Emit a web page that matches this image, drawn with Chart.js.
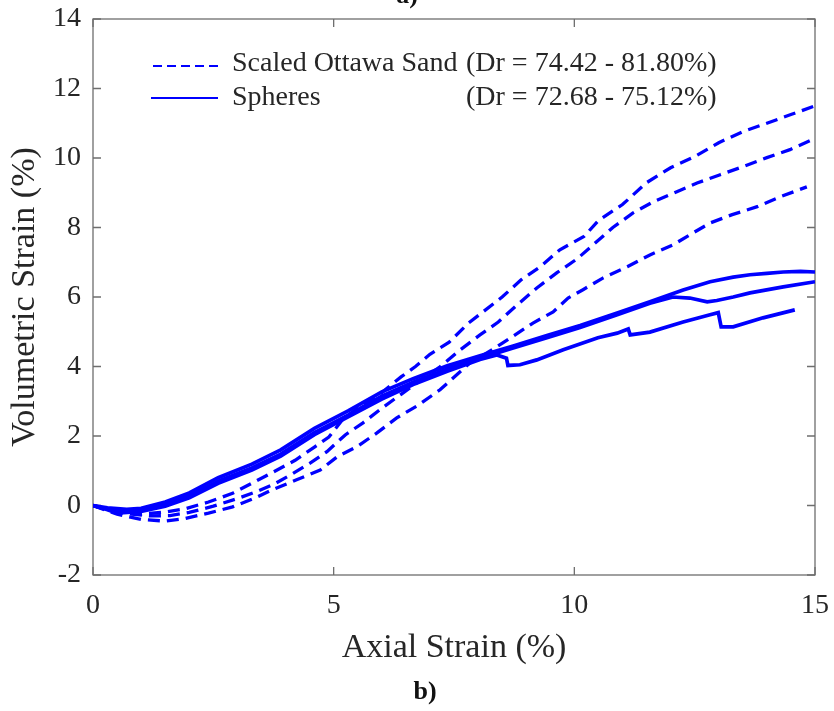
<!DOCTYPE html>
<html>
<head>
<meta charset="utf-8">
<script src="https://cdn.jsdelivr.net/npm/chart.js@4.4.1/dist/chart.umd.min.js"></script>
<style>
  html, body { margin: 0; padding: 0; background: #ffffff; }
  canvas { display: block; }
</style>
</head>
<body>
<canvas id="c" width="834" height="711"></canvas>
<script>
// ---------- data ----------
const sandA_x = [0, 0.3, 0.6, 1.0, 1.5, 1.9, 2.4, 2.9, 3.3, 3.7, 4.2, 4.6, 4.9, 5.2, 5.6, 6.0, 6.4, 6.7, 7.0, 7.4, 7.8, 8.1, 8.5, 8.9, 9.3, 9.7, 10.2, 10.5, 11.0, 11.5, 12.0, 12.5, 13.0, 13.5, 14.0, 14.5, 15.0];
const sandA_y = [0, -0.12, -0.2, -0.25, -0.19, -0.1, 0.1, 0.35, 0.64, 0.93, 1.3, 1.68, 1.97, 2.5, 2.9, 3.25, 3.7, 4.0, 4.35, 4.7, 5.25, 5.57, 6.0, 6.5, 6.88, 7.36, 7.74, 8.2, 8.66, 9.29, 9.72, 10.04, 10.44, 10.76, 11.0, 11.25, 11.5];

const sandB_x = [0, 0.4, 0.8, 1.2, 1.6, 2.0, 2.5, 3.0, 3.4, 3.74, 4.09, 4.51, 4.86, 5.24, 5.61, 6.0, 6.4, 6.8, 7.21, 7.63, 8.04, 8.42, 8.81, 9.22, 9.64, 10.06, 10.39, 10.8, 11.22, 11.64, 12.13, 12.55, 13.03, 13.5, 14.0, 14.48, 14.95];
const sandB_y = [0, -0.15, -0.25, -0.3, -0.29, -0.2, -0.02, 0.2, 0.4, 0.6, 0.87, 1.22, 1.55, 2.03, 2.38, 2.8, 3.2, 3.6, 3.99, 4.48, 4.91, 5.28, 5.77, 6.26, 6.7, 7.1, 7.5, 8.0, 8.42, 8.74, 9.03, 9.28, 9.52, 9.75, 10.01, 10.24, 10.53];

const sandC_x = [0, 0.5, 1.0, 1.5, 1.9, 2.4, 2.9, 3.37, 3.72, 4.23, 4.72, 5.07, 5.48, 5.9, 6.31, 6.76, 7.21, 7.83, 8.35, 8.77, 9.14, 9.56, 9.87, 10.18, 10.6, 11.1, 11.57, 12.05, 12.4, 12.82, 13.28, 13.8, 14.27, 14.83];
const sandC_y = [0, -0.25, -0.4, -0.45, -0.38, -0.22, -0.04, 0.22, 0.45, 0.74, 1.02, 1.4, 1.69, 2.09, 2.52, 2.89, 3.33, 4.1, 4.53, 4.91, 5.25, 5.57, 5.97, 6.21, 6.55, 6.87, 7.21, 7.5, 7.79, 8.13, 8.37, 8.6, 8.88, 9.17];

const sph1_x = [0, 0.3, 0.7, 1.0, 1.5, 2.0, 2.6, 3.3, 3.9, 4.6, 5.3, 6.0, 6.65, 7.36, 8.04, 8.73, 9.43, 10.12, 10.89, 11.57, 12.26, 12.82, 13.3, 13.65, 14.0, 14.34, 14.7, 15.0];
const sph1_y = [0, -0.07, -0.11, -0.08, 0.1, 0.36, 0.8, 1.19, 1.6, 2.22, 2.72, 3.27, 3.65, 4.02, 4.31, 4.59, 4.89, 5.18, 5.54, 5.86, 6.2, 6.44, 6.57, 6.64, 6.68, 6.72, 6.74, 6.72];

const sph2_x = [0, 0.3, 0.7, 1.0, 1.5, 2.0, 2.6, 3.3, 3.9, 4.6, 5.3, 6.0, 6.65, 7.36, 8.04, 8.73, 9.43, 10.12, 10.89, 11.57, 12.05, 12.4, 12.76, 12.96, 13.3, 13.65, 14.34, 15.0];
const sph2_y = [0, -0.1, -0.16, -0.14, 0.02, 0.27, 0.7, 1.08, 1.48, 2.1, 2.6, 3.15, 3.55, 3.93, 4.24, 4.53, 4.83, 5.12, 5.49, 5.82, 6.0, 5.97, 5.86, 5.9, 6.0, 6.12, 6.29, 6.44];

const sph3_x = [0, 0.3, 0.5, 1.0, 1.5, 2.0, 2.6, 3.3, 3.9, 4.6, 5.3, 6.0, 6.65, 7.36, 8.04, 8.39, 8.59, 8.62, 8.87, 9.22, 9.77, 10.49, 10.89, 11.12, 11.16, 11.57, 12.26, 12.82, 12.99, 13.05, 13.3, 13.92, 14.58];
const sph3_y = [0, -0.12, -0.22, -0.17, -0.02, 0.22, 0.64, 1.02, 1.42, 2.04, 2.55, 3.06, 3.48, 3.86, 4.2, 4.33, 4.24, 4.03, 4.05, 4.19, 4.48, 4.83, 4.96, 5.08, 4.91, 4.99, 5.28, 5.49, 5.55, 5.14, 5.14, 5.4, 5.63];

const xTicks = [0, 5, 10, 15];
const yTicks = [-2, 0, 2, 4, 6, 8, 10, 12, 14];
const xTitle = 'Axial Strain (%)';
const yTitle = 'Volumetric Strain (%)';
const legendNames = ['Scaled Ottawa Sand', 'Spheres'];
const legendDr = ['(Dr = 74.42 - 81.80%)', '(Dr = 72.68 - 75.12%)'];
const panelLabel = 'b)';
const topLabel = 'a)';

// ---------- helpers ----------
function pts(xs, ys) { return xs.map((x, i) => ({ x: x, y: ys[i] })); }
const BLUE = '#0000ff';
const TXT = '#262626';
const FONT = "'Liberation Serif', 'Times New Roman', serif";

function dashed(xs, ys) {
  return { data: pts(xs, ys), borderColor: BLUE, borderWidth: 3.3, borderDash: [12, 7],
           showLine: true, pointRadius: 0, tension: 0, fill: false };
}
function solid(xs, ys) {
  return { data: pts(xs, ys), borderColor: BLUE, borderWidth: 3.7,
           showLine: true, pointRadius: 0, tension: 0, fill: false };
}

const framePlugin = {
  id: 'frame',
  beforeDatasetsDraw(chart) {
    const { ctx, chartArea: { left, right, top, bottom }, scales: { x, y } } = chart;
    ctx.save();
    ctx.strokeStyle = '#6e6e6e';
    ctx.lineWidth = 1.3;
    ctx.strokeRect(left, top, right - left, bottom - top);
    const tl = 8;
    ctx.beginPath();
    xTicks.forEach(v => {
      const px = x.getPixelForValue(v);
      ctx.moveTo(px, bottom); ctx.lineTo(px, bottom - tl);
      ctx.moveTo(px, top); ctx.lineTo(px, top + tl);
    });
    yTicks.forEach(v => {
      const py = y.getPixelForValue(v);
      ctx.moveTo(left, py); ctx.lineTo(left + tl, py);
      ctx.moveTo(right, py); ctx.lineTo(right - tl, py);
    });
    ctx.stroke();
    ctx.restore();
  },
  afterDraw(chart) {
    const { ctx } = chart;
    ctx.save();
    // legend samples
    ctx.strokeStyle = BLUE;
    ctx.lineWidth = 2.2;
    ctx.setLineDash([9, 5]);
    ctx.beginPath(); ctx.moveTo(153, 66); ctx.lineTo(223, 66); ctx.stroke();
    ctx.setLineDash([]);
    ctx.beginPath(); ctx.moveTo(151, 98); ctx.lineTo(218, 98); ctx.stroke();
    // legend text
    ctx.fillStyle = TXT;
    ctx.font = "28px " + FONT;
    ctx.textBaseline = 'alphabetic';
    ctx.textAlign = 'left';
    ctx.fillText(legendNames[0], 232, 71);
    ctx.fillText(legendNames[1], 232, 105);
    ctx.fillText(legendDr[0], 466, 71);
    ctx.fillText(legendDr[1], 466, 105);
    // panel labels
    ctx.font = "bold 26px " + FONT;
    ctx.textAlign = 'center';
    ctx.fillStyle = '#111';
    ctx.fillText(panelLabel, 425, 699);
    ctx.fillText(topLabel, 407, 3);
    ctx.restore();
  }
};

new Chart(document.getElementById('c'), {
  type: 'scatter',
  data: {
    datasets: [
      dashed(sandA_x, sandA_y),
      dashed(sandB_x, sandB_y),
      dashed(sandC_x, sandC_y),
      solid(sph1_x, sph1_y),
      solid(sph2_x, sph2_y),
      solid(sph3_x, sph3_y)
    ]
  },
  options: {
    responsive: false,
    animation: false,
    layout: { padding: { top: 19, right: 19, left: 0, bottom: 0 } },
    plugins: { legend: { display: false }, tooltip: { enabled: false } },
    scales: {
      x: {
        type: 'linear', position: 'bottom', min: 0, max: 15,
        afterFit(s) { s.height = 136; s.paddingLeft = 0; s.paddingRight = 0; },
        afterBuildTicks(s) { s.ticks = xTicks.map(v => ({ value: v })); },
        grid: { display: false, drawTicks: false },
        border: { display: false },
        ticks: { font: { family: FONT, size: 28 }, color: TXT, padding: 14, maxRotation: 0, autoSkip: false },
        title: { display: true, text: xTitle, color: TXT, font: { family: FONT, size: 34 }, padding: { top: 0, bottom: 43 } }
      },
      y: {
        type: 'linear', position: 'left', min: -2, max: 14,
        afterFit(s) { s.width = 93; s.paddingTop = 0; s.paddingBottom = 0; },
        afterBuildTicks(s) { s.ticks = yTicks.map(v => ({ value: v })); },
        grid: { display: false, drawTicks: false },
        border: { display: false },
        ticks: { font: { family: FONT, size: 28 }, color: TXT, padding: 12, autoSkip: false },
        title: { display: true, text: yTitle, color: TXT, font: { family: FONT, size: 34 }, padding: { top: 5, bottom: 0 } }
      }
    }
  },
  plugins: [framePlugin]
});
</script>
</body>
</html>
